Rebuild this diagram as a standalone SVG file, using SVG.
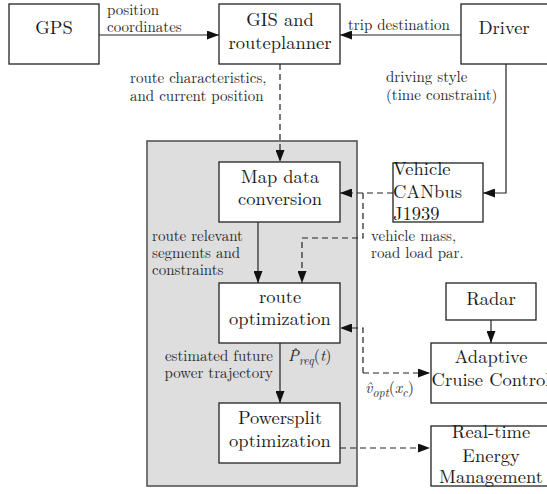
<svg xmlns="http://www.w3.org/2000/svg" width="547" height="494" viewBox="0 0 547 494" font-family="'Latin Modern Roman', 'Liberation Serif', serif">
  <defs>
    <marker id="arrow" viewBox="0 0 12 9" markerWidth="12" markerHeight="9" refX="12" refY="4.5" orient="auto" markerUnits="userSpaceOnUse">
      <path d="M0,0 L12,4.5 L0,9 Z" fill="#111"/>
    </marker>
    <style>
      .box { fill: #fff; stroke: #222; stroke-width: 1.3; }
      .panel { fill: #dedede; stroke: #555; stroke-width: 1.6; }
      .t { font-size: 18.5px; fill: #1a1a1a; text-anchor: middle; }
      .tl { font-size: 18.5px; fill: #1a1a1a; }
      .lbl { font-size: 15px; fill: #2a2a2a; }
      .m { font-size: 16px; fill: #2a2a2a; font-style: italic; }
      .c { fill: none; stroke: #222; stroke-width: 1.2; }
      .d { stroke-dasharray: 6 4; }
    </style>
  </defs>

  <!-- grey panel holding the onboard optimisation chain -->
  <rect class="panel" x="147" y="141" width="210" height="345"/>

  <!-- connectors -->
  <g id="connectors">
    <path class="c" d="M98,35 H219" marker-end="url(#arrow)"/>
    <path class="c" d="M461,35 H340" marker-end="url(#arrow)"/>
    <path class="c d" d="M280,64 V162" marker-end="url(#arrow)"/>
    <path class="c" d="M506,64 V193 H483" marker-end="url(#arrow)"/>
    <path class="c d" d="M393,193 H340" marker-end="url(#arrow)"/>
    <path class="c d" d="M363,193 V238 H302 V283" marker-end="url(#arrow)"/>
    <path class="c" d="M258,222 V283" marker-end="url(#arrow)"/>
    <path class="c" d="M280,343 V403" marker-end="url(#arrow)"/>
    <path class="c d" d="M363,373 V328 H340" marker-end="url(#arrow)"/>
    <path class="c d" d="M363,373 H430" marker-end="url(#arrow)"/>
    <path class="c" d="M491,320 V343" marker-end="url(#arrow)"/>
    <path class="c d" d="M340,448 H430" marker-end="url(#arrow)"/>
  </g>

  <!-- connector labels -->
  <g id="labels">
    <text class="lbl" x="107" y="15">position</text>
    <text class="lbl" x="107" y="32">coordinates</text>
    <text class="lbl" x="348" y="30">trip destination</text>
    <text class="lbl" x="130" y="83">route characteristics,</text>
    <text class="lbl" x="130" y="101">and current position</text>
    <text class="lbl" x="386" y="82">driving style</text>
    <text class="lbl" x="386" y="100">(time constraint)</text>
    <text class="lbl" x="152" y="241">route relevant</text>
    <text class="lbl" x="152" y="258">segments and</text>
    <text class="lbl" x="152" y="275">constraints</text>
    <text class="lbl" x="371" y="241">vehicle mass,</text>
    <text class="lbl" x="371" y="258">road load par.</text>
    <text class="lbl" x="273" y="361" text-anchor="end">estimated future</text>
    <text class="lbl" x="273" y="378" text-anchor="end">power trajectory</text>
    <!-- P with a hat, subscript req, of t -->
    <text class="m" x="288" y="361">P<tspan font-style="normal" dx="-7" dy="-2">ˆ</tspan><tspan font-size="12" dx="-1" dy="6">req</tspan><tspan font-style="normal" dy="-4">(</tspan>t<tspan font-style="normal">)</tspan></text>
    <text class="m" x="365" y="393">v̂<tspan font-size="12" dy="4">opt</tspan><tspan font-style="normal" dy="-4">(</tspan>x<tspan font-size="12" dy="4">c</tspan><tspan font-style="normal" dy="-4">)</tspan></text>
  </g>

  <g id="gps">
    <rect class="box" x="9" y="4" width="90" height="60"/>
    <text class="t" x="54" y="34">GPS</text>
  </g>

  <g id="gis">
    <rect class="box" x="219" y="4" width="121" height="60"/>
    <text class="t" x="280" y="26">GIS and</text>
    <text class="t" x="280" y="49">routeplanner</text>
  </g>

  <g id="driver">
    <rect class="box" x="461" y="4" width="92" height="60"/>
    <text class="t" x="504" y="34">Driver</text>
  </g>

  <g id="map-data">
    <rect class="box" x="219" y="162" width="121" height="60"/>
    <text class="t" x="280" y="183">Map data</text>
    <text class="t" x="280" y="205">conversion</text>
  </g>

  <g id="canbus">
    <rect class="box" x="393" y="163" width="90" height="59"/>
    <text class="tl" x="393" y="175">Vehicle</text>
    <text class="tl" x="393" y="198">CANbus</text>
    <text class="tl" x="393" y="220">J1939</text>
  </g>

  <g id="route-opt">
    <rect class="box" x="219" y="283" width="121" height="60"/>
    <text class="t" x="280" y="303">route</text>
    <text class="t" x="280" y="325">optimization</text>
  </g>

  <g id="powersplit">
    <rect class="box" x="219" y="403" width="121" height="60"/>
    <text class="t" x="280" y="424">Powersplit</text>
    <text class="t" x="280" y="447">optimization</text>
  </g>

  <g id="radar">
    <rect class="box" x="446" y="283" width="90" height="37"/>
    <text class="t" x="491" y="305">Radar</text>
  </g>

  <g id="acc">
    <rect class="box" x="431" y="343" width="122" height="60"/>
    <text class="t" x="491" y="363">Adaptive</text>
    <text class="t" x="491" y="386">Cruise Control</text>
  </g>

  <g id="energy-mgmt">
    <rect class="box" x="431" y="426" width="122" height="60"/>
    <text class="t" x="491" y="438">Real-time</text>
    <text class="t" x="491" y="462">Energy</text>
    <text class="t" x="491" y="483">Management</text>
  </g>
</svg>
